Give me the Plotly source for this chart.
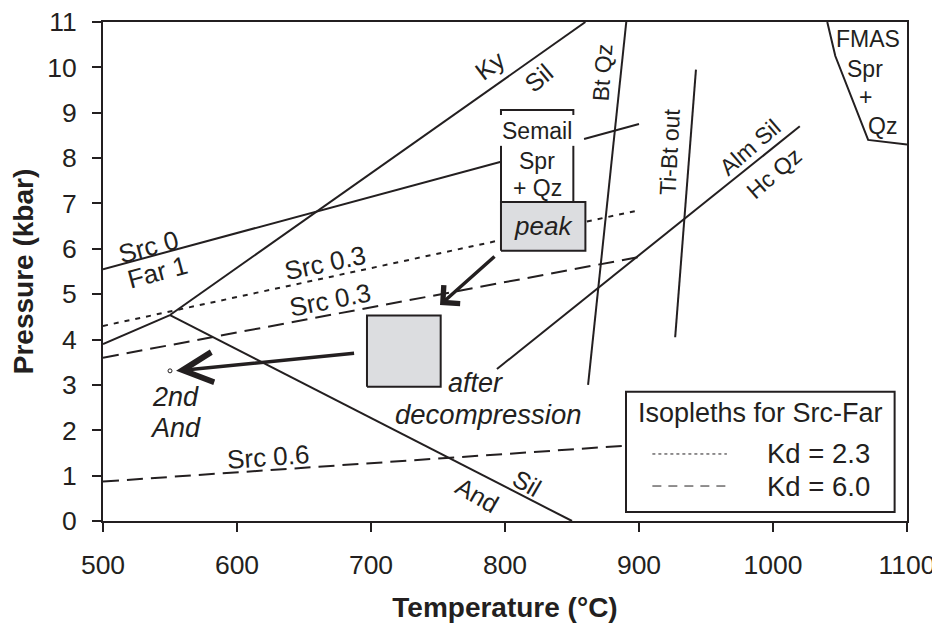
import plotly.graph_objects as go

# ---------------- data (T in °C, P in kbar) ----------------
src0_T = [500, 797, None, 859, 900]
src0_P = [5.55, 7.92, None, 8.42, 8.75]
kysil_T = [550, 860]
kysil_P = [4.54, 11.0]
kyand_T = [500, 550]
kyand_P = [3.9, 4.54]
andsil_T = [550, 850]
andsil_P = [4.54, 0.0]
btqz_T = [862, 890.5]
btqz_P = [3.0, 11.0]
tibt_T = [927, 942.5]
tibt_P = [4.05, 9.95]
almsil_T = [794, 1020]
almsil_P = [3.35, 8.7]
fmas_T = [1040.5, 1046.5, 1071, 1100]
fmas_P = [11.0, 10.25, 8.4, 8.3]

src03_dot_T = [500, 900]
src03_dot_P = [4.3, 6.85]
src03_dash_T = [500, 900]
src03_dash_P = [3.6, 5.82]
src06_dash_T = [500, 900]
src06_dash_P = [0.87, 1.68]

semail_T = [797, 797, 851, 851, None, 797, 797, None, 851, 851]
semail_P = [8.95, 9.06, 9.06, 8.95, None, 8.27, 7.03, None, 8.27, 7.03]
peak_T = [797, 860, 860, 797, 797]
peak_P = [5.96, 5.96, 7.03, 7.03, 5.96]
after_T = [697, 752, 752, 697, 697]
after_P = [2.96, 2.96, 4.53, 4.53, 2.96]

arrow1_T = [793.3, 751.5]   # start, tip
arrow1_P = [5.86, 4.76]
arrow2_T = [688.5, 554.5]
arrow2_P = [3.70, 3.31]
dot2_T = [550]
dot2_P = [3.31]

x_ticks = [500, 600, 700, 800, 900, 1000, 1100]
y_ticks = list(range(0, 12))

# labels: text, T, P, angle, size, italic
labels = [
    ("Src 0", 534, 6.05, -15, 26, False),
    ("Far 1", 541, 5.5, -15, 26, False),
    ("Ky", 789, 10.05, -37, 25, False),
    ("Sil", 825, 9.76, -40, 25, False),
    ("Bt Qz", 872.7, 9.9, -86, 23, False),
    ("Ti-Bt out", 922.7, 8.14, -87, 23, False),
    ("Alm Sil", 983, 8.25, -41, 23, False),
    ("Hc Qz", 1001, 7.67, -41, 23, False),
    ("FMAS", 1071, 10.62, 0, 23, False),
    ("Spr", 1069, 9.96, 0, 23, False),
    ("+", 1069, 9.35, 0, 23, False),
    ("Qz", 1082, 8.71, 0, 23, False),
    ("Semail", 824, 8.6, 0, 23, False),
    ("Spr", 824, 7.94, 0, 23, False),
    ("+ Qz", 824, 7.34, 0, 23, False),
    ("peak", 828.5, 6.5, 0, 26, True),
    ("Src 0.3", 665.6, 5.68, -12, 26, False),
    ("Src 0.3", 669.3, 4.87, -11, 26, False),
    ("Src 0.6", 623.2, 1.40, -4, 26, False),
    ("2nd", 554.3, 2.74, 0, 27, True),
    ("And", 554.3, 2.04, 0, 27, True),
    ("after", 778.3, 3.05, 0, 27, True),
    ("decompression", 787.6, 2.34, 0, 27.5, True),
    ("Sil", 816.2, 0.83, 30, 25, False),
    ("And", 779.3, 0.57, 30, 25, False),
]

INK = "#231f20"
GRAY = "#dcdde0"
FONT = "Liberation Sans, Arial, sans-serif"

fig = go.Figure()


def line(T, P, dash="solid", width=2):
    fig.add_trace(go.Scatter(x=T, y=P, mode="lines", showlegend=False, hoverinfo="skip",
                             line=dict(color=INK, width=width, dash=dash)))


line(src03_dot_T, src03_dot_P, dash="5px,6px")
line(src03_dash_T, src03_dash_P, dash="16px,8px")
line(src06_dash_T, src06_dash_P, dash="16px,8px")
line(src0_T, src0_P)
line(kysil_T, kysil_P)
line(kyand_T, kyand_P)
line(andsil_T, andsil_P)
line(btqz_T, btqz_P)
line(tibt_T, tibt_P)
line(almsil_T, almsil_P)
line(fmas_T, fmas_P)
line(semail_T, semail_P)

for T, P in ((peak_T, peak_P), (after_T, after_P)):
    fig.add_trace(go.Scatter(x=T, y=P, mode="lines", fill="toself", fillcolor=GRAY,
                             showlegend=False, hoverinfo="skip",
                             line=dict(color=INK, width=2)))

fig.add_trace(go.Scatter(x=dot2_T, y=dot2_P, mode="markers", showlegend=False, hoverinfo="skip",
                         marker=dict(symbol="circle-open", size=4, color=INK,
                                     line=dict(color=INK, width=1))))

# arrows (open chevron heads)
for T, P, head, hsize in ((arrow1_T, arrow1_P, 4, 1.35), (arrow2_T, arrow2_P, 5, 1.7)):
    fig.add_annotation(x=T[1], y=P[1], ax=T[0], ay=P[0], xref="x", yref="y",
                       axref="x", ayref="y", text="", showarrow=True,
                       arrowhead=head, arrowsize=hsize, arrowwidth=3.5, arrowcolor=INK,
                       standoff=0, startstandoff=0)

for text, T, P, ang, size, ital in labels:
    fig.add_annotation(x=T, y=P, text=text, showarrow=False, textangle=ang,
                       xanchor="center", yanchor="middle",
                       font=dict(family=FONT, size=size, color=INK,
                                 style="italic" if ital else "normal"))

# legend box (drawn manually, paper coordinates)
fig.add_shape(type="rect", xref="paper", yref="paper", x0=0.6505, x1=0.9846, y0=0.018, y1=0.2591,
              line=dict(color=INK, width=2), fillcolor="white", layer="above")
fig.add_shape(type="line", xref="paper", yref="paper", x0=0.6833, x1=0.776, y0=0.1343, y1=0.1343,
              line=dict(color=INK, width=1, dash="3px,3px"), layer="above")
fig.add_shape(type="line", xref="paper", yref="paper", x0=0.6833, x1=0.776, y0=0.0701, y1=0.0701,
              line=dict(color=INK, width=1, dash="9px,7px"), layer="above")
fig.add_annotation(xref="paper", yref="paper", x=0.8173, y=0.217, text="Isopleths for Src-Far",
                   xanchor="center", yanchor="middle",
                   showarrow=False, font=dict(family=FONT, size=27, color=INK))
fig.add_annotation(xref="paper", yref="paper", x=0.8236, y=0.1343, xanchor="left", yanchor="middle",
                   text="Kd = 2.3",
                   showarrow=False, font=dict(family=FONT, size=27.5, color=INK))
fig.add_annotation(xref="paper", yref="paper", x=0.8236, y=0.0701, xanchor="left", yanchor="middle",
                   text="Kd = 6.0",
                   showarrow=False, font=dict(family=FONT, size=27.5, color=INK))

axis_common = dict(showgrid=False, zeroline=False, showline=True, linecolor=INK, linewidth=2,
                   mirror=True, ticks="outside", ticklen=9, tickwidth=2, tickcolor=INK,
                   automargin=False, ticklabeloverflow="allow",
                   tickfont=dict(family=FONT, size=26.5, color=INK))

# the page body adds an 8 px offset, so margins are shifted by 8 px
fig.update_layout(
    width=940, height=624,
    margin=dict(l=95, r=41, t=14, b=111),
    paper_bgcolor="white", plot_bgcolor="white",
    showlegend=False,
    xaxis=dict(range=[500, 1100], tickvals=x_ticks, ticklabelstandoff=10,
               title=dict(text="<b>Temperature (°C)</b>", standoff=19,
                          font=dict(family=FONT, size=28, color=INK)), **axis_common),
    yaxis=dict(range=[0, 11], tickvals=y_ticks, ticklabelstandoff=10,
               title=dict(text="<b>Pressure (kbar)</b>", standoff=8,
                          font=dict(family=FONT, size=28, color=INK)), **axis_common),
)

fig.write_html("out.html")
